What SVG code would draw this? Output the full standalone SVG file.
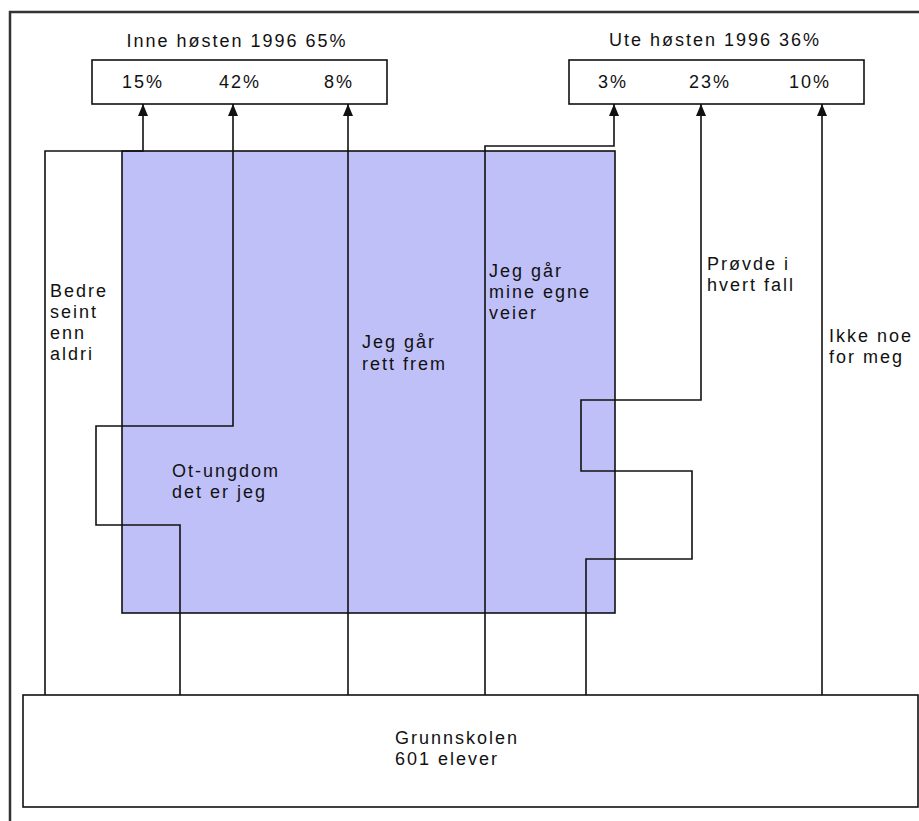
<svg xmlns="http://www.w3.org/2000/svg" width="919" height="821" viewBox="0 0 919 821">
<defs>
<style>
.t{font-family:"Liberation Sans",Arial,sans-serif;font-size:18px;letter-spacing:2px;fill:#111}
.box{fill:#fff;stroke:#111;stroke-width:1.6}
.c{fill:none;stroke:#111;stroke-width:1.6}
</style>
<marker id="ah" viewBox="0 0 12 10" refX="12" refY="5" markerWidth="12" markerHeight="10" markerUnits="userSpaceOnUse" orient="auto">
<path d="M0,0 L12,5 L0,10 z" fill="#111"/>
</marker>
</defs>
<rect width="919" height="821" fill="#fff"/>
<path id="frame" d="M10,821 V12 H919" fill="none" stroke="#333" stroke-width="2.5"/>
<g id="ot-block"><rect x="122" y="151" width="493" height="462" fill="#c0c0f9" stroke="#111" stroke-width="1.6"/></g>
<g id="inne">
<text class="t" x="237" y="47" text-anchor="middle">Inne høsten 1996 65%</text>
<rect class="box" x="92" y="60" width="295" height="44"/>
<text class="t" x="143" y="88" text-anchor="middle">15%</text>
<text class="t" x="240" y="88" text-anchor="middle">42%</text>
<text class="t" x="339" y="88" text-anchor="middle">8%</text>
</g>
<g id="ute">
<text class="t" x="715" y="46" text-anchor="middle">Ute høsten 1996 36%</text>
<rect class="box" x="569" y="60" width="295" height="44"/>
<text class="t" x="613" y="88" text-anchor="middle">3%</text>
<text class="t" x="710" y="88" text-anchor="middle">23%</text>
<text class="t" x="810" y="88" text-anchor="middle">10%</text>
</g>
<g id="grunnskolen">
<rect class="box" x="23" y="695" width="895" height="112"/>
<text class="t" x="395" y="744">Grunnskolen</text>
<text class="t" x="395" y="765">601 elever</text>
</g>
<g id="connectors">
<path class="c" d="M45,695 V151 H143 V104" marker-end="url(#ah)"/>
<path class="c" d="M180,695 V525 H96 V426 H233 V104" marker-end="url(#ah)"/>
<path class="c" d="M348,695 V104" marker-end="url(#ah)"/>
<path class="c" d="M485,695 V146 H614 V104" marker-end="url(#ah)"/>
<path class="c" d="M586,695 V559 H692 V471 H581 V400 H701 V104" marker-end="url(#ah)"/>
<path class="c" d="M822,695 V104" marker-end="url(#ah)"/>
</g>
<g id="labels">
<text class="t" x="50" y="297">Bedre</text>
<text class="t" x="50" y="318">seint</text>
<text class="t" x="50" y="339">enn</text>
<text class="t" x="50" y="360">aldri</text>
<text class="t" x="362" y="348">Jeg går</text>
<text class="t" x="362" y="370">rett frem</text>
<text class="t" x="172" y="477">Ot-ungdom</text>
<text class="t" x="172" y="498">det er jeg</text>
<text class="t" x="489" y="277">Jeg går</text>
<text class="t" x="489" y="298">mine egne</text>
<text class="t" x="489" y="319">veier</text>
<text class="t" x="707" y="270">Prøvde i</text>
<text class="t" x="707" y="291">hvert fall</text>
<text class="t" x="829" y="342">Ikke noe</text>
<text class="t" x="829" y="363">for meg</text>
</g>
</svg>
